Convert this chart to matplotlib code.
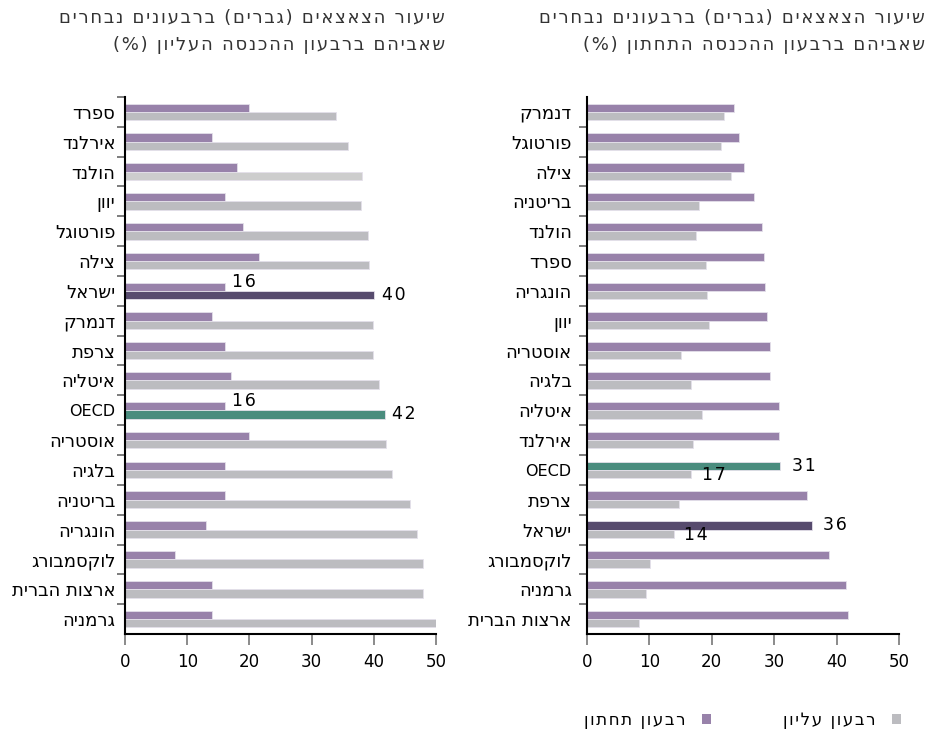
import matplotlib
matplotlib.use("Agg")
import matplotlib.pyplot as plt
from matplotlib.patches import Patch
from matplotlib import font_manager
from matplotlib.ft2font import FT2Font
import numpy as np

def font_cmap(name):
    try:
        path = font_manager.findfont(font_manager.FontProperties(family=name),
                                     fallback_to_default=False)
        return FT2Font(path).get_charmap()
    except Exception:
        return None

FONT = 'DejaVu Sans'
cm = font_cmap(FONT) or {}
HSP = '\u200a' if 0x200a in cm else ''
plt.rcParams['font.family'] = [FONT]

def rtl(s):
    """Convert logical-order Hebrew text to visual order for LTR renderer."""
    r = s[::-1]
    return r.translate(str.maketrans({'(': ')', ')': '('}))

def track(s, sp):
    return sp.join(list(s))

def lab(s):
    return s if s.isascii() else rtl(s)

# ---- Data ----
title_left = ["שיעור הצאצאים (גברים) ברבעונים נבחרים",
              "שאביהם ברבעון ההכנסה העליון (%)"]
title_right = ["שיעור הצאצאים (גברים) ברבעונים נבחרים",
               "שאביהם ברבעון ההכנסה התחתון (%)"]

left_countries = ["ספרד", "אירלנד", "הולנד", "יוון", "פורטוגל", "צילה", "ישראל",
                  "דנמרק", "צרפת", "איטליה", "OECD", "אוסטריה", "בלגיה", "בריטניה",
                  "הונגריה", "לוקסמבורג", "ארצות הברית", "גרמניה"]
left_bottom = [20, 14, 18, 16, 19, 21.6, 16, 14, 16, 17, 16, 20, 16, 16, 13, 8, 14, 14]
left_top = [33.9, 35.9, 38.1, 37.9, 39.0, 39.2, 40.1, 39.9, 39.9, 40.9, 41.8, 42.0,
            42.9, 45.9, 46.9, 47.9, 47.9, 50.0]

right_countries = ["דנמרק", "פורטוגל", "צילה", "בריטניה", "הולנד", "ספרד", "הונגריה",
                   "יוון", "אוסטריה", "בלגיה", "איטליה", "אירלנד", "OECD", "צרפת",
                   "ישראל", "לוקסמבורג", "גרמניה", "ארצות הברית"]
right_bottom = [23.5, 24.4, 25.2, 26.7, 28.1, 28.4, 28.5, 28.9, 29.3, 29.3, 30.7, 30.8,
                31.0, 35.2, 36.1, 38.8, 41.5, 41.8]
right_top = [21.9, 21.4, 23.0, 18.0, 17.5, 19.1, 19.3, 19.6, 15.0, 16.6, 18.5, 17.0,
             16.7, 14.8, 13.9, 10.1, 9.4, 8.4]

legend_labels = ["רבעון תחתון", "רבעון עליון"]
xticks = [0, 10, 20, 30, 40, 50]

# ---- Styles ----
PURPLE = '#9882aa'
GRAY = '#bcbcc0'
LIGHTGRAY = '#cdcdcd'
DARK = '#574b6e'
GREEN = '#4a8c7e'
EDGE = '#e4e0ea'
ISR = "ישראל"

fig = plt.figure(figsize=(9.26, 7.29), dpi=100)
axL = fig.add_axes([125/926, 1-634/729, 311/926, 537/729])
axR = fig.add_axes([587/926, 1-634/729, 312/926, 537/729])

bh = 0.28

def draw(ax, countries, bottom, top, highlight_bottom, top_tick, pad):
    n = len(countries)
    y = np.arange(n)
    bcols, tcols = [], []
    for c in countries:
        if highlight_bottom:
            bcols.append(DARK if c == ISR else GREEN if c == "OECD" else PURPLE)
            tcols.append(GRAY)
        else:
            bcols.append(PURPLE)
            tcols.append(DARK if c == ISR else GREEN if c == "OECD" else
                         (LIGHTGRAY if c == "הולנד" else GRAY))
    ax.barh(y - bh/2, bottom, height=bh, color=bcols, edgecolor=EDGE, linewidth=0.6)
    ax.barh(y + bh/2, top, height=bh, color=tcols, edgecolor=EDGE, linewidth=0.6)
    ax.set_ylim(n - 0.5, -0.5)
    ax.set_xlim(0, 50)
    ax.set_xticks(xticks)
    ax.set_xticklabels([str(t) for t in xticks], fontsize=12)
    ax.set_yticks(y)
    ax.set_yticklabels([lab(c) for c in countries], fontsize=13)
    for t, c in zip(ax.get_yticklabels(), countries):
        if c.isascii():
            t.set_fontsize(11.5)
    ax.tick_params(axis='y', length=0, pad=pad)
    ax.tick_params(axis='x', length=8, color='#777777', width=1.2, pad=6)
    minor = list(np.arange(0.5, n - 1, 1.0))
    if top_tick:
        minor = [-0.5] + minor
    ax.set_yticks(minor, minor=True)
    ax.tick_params(axis='y', which='minor', length=6, color='#666666', width=1.2)
    for s in ['top', 'right']:
        ax.spines[s].set_visible(False)
    ax.spines['left'].set_linewidth(1.5)
    ax.spines['bottom'].set_linewidth(1.5)
    return y

yL = draw(axL, left_countries, left_bottom, left_top, False, True, 7)
yR = draw(axR, right_countries, right_bottom, right_top, True, False, 11)

def num(v):
    return track(f"{v:.0f}", HSP)

VFS = 12.5
# value labels left panel
for c in [ISR, "OECD"]:
    i = left_countries.index(c)
    axL.text(left_bottom[i] + 1.2, yL[i] - bh - 0.03, num(left_bottom[i]),
             fontsize=VFS, va='center', ha='left')
    axL.text(left_top[i] + 1.2, yL[i] + bh/2, num(left_top[i]),
             fontsize=VFS, va='center', ha='left')

# value labels right panel
for c in [ISR, "OECD"]:
    i = right_countries.index(c)
    axR.text(right_bottom[i] + 1.8, yR[i] - bh/2, num(right_bottom[i]),
             fontsize=VFS, va='center', ha='left')
    axR.text(right_top[i] + 1.7, yR[i] + bh/2 + 0.03, num(right_top[i]),
             fontsize=VFS, va='center', ha='left')

# titles
for lines, xr in [(title_left, 445/926), (title_right, 925/926)]:
    fig.text(xr, 1 - 18/729, track(rtl(lines[0]), HSP), fontsize=13, color='#333333',
             ha='right', va='center')
    fig.text(xr, 1 - 45/729, track(rtl(lines[1]), HSP), fontsize=13, color='#333333',
             ha='right', va='center')

# legend
handles = [Patch(facecolor=PURPLE, edgecolor='none'), Patch(facecolor=GRAY, edgecolor='none')]
fig.legend(handles, [track(rtl(l), HSP) for l in legend_labels], ncol=2, markerfirst=False,
           loc='center right', bbox_to_anchor=(916/926, 1 - 720/729), frameon=False,
           fontsize=12, handlelength=0.55, handleheight=0.55, columnspacing=4.3,
           handletextpad=1.0)

fig.savefig("out.png", dpi=100)
